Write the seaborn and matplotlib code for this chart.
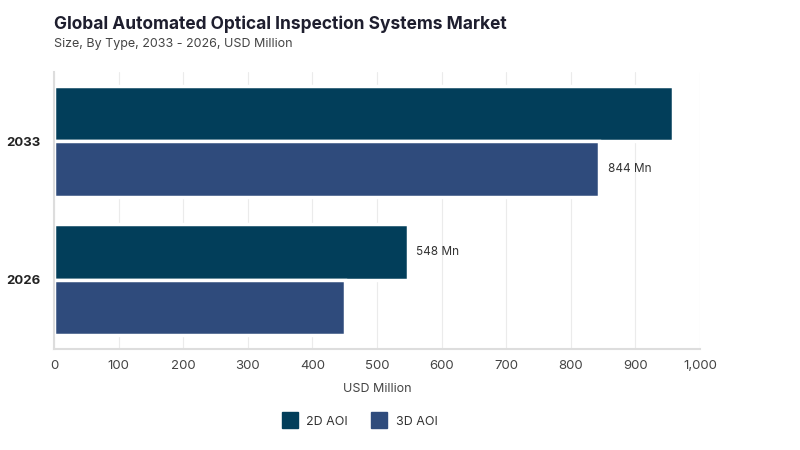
import pandas as pd
import matplotlib
matplotlib.use("Agg")
import matplotlib.pyplot as plt
import seaborn as sns
from matplotlib.ticker import FuncFormatter
from matplotlib.lines import Line2D

years = ["2033", "2026"]
types = ["2D AOI", "3D AOI"]
aoi_2d = [958, 548]
aoi_3d = [844, 450]
colors = ["#023e5a", "#2f4b7c"]

df = pd.DataFrame({
    "year": years * 2,
    "type": [types[0]] * 2 + [types[1]] * 2,
    "value": aoi_2d + aoi_3d,
})

sns.set_style("white")
plt.rcParams["font.family"] = ["Inter", "DejaVu Sans"]

fig = plt.figure(figsize=(8, 4.5), dpi=100)
ax = fig.add_axes([0.0675, 0.2244, 0.8075, 0.6156])

sns.barplot(data=df, y="year", x="value", hue="type", order=years, hue_order=types,
            palette=colors, orient="h", width=0.8, edgecolor="white", linewidth=2.5,
            saturation=1, legend=False, ax=ax)

ax.set_xlim(0, 1000)
ax.set_ylim(1.5, -0.5)
ax.set_xticks(range(0, 1001, 100))
ax.xaxis.set_major_formatter(FuncFormatter(lambda v, p: f"{int(v):,}"))
ax.grid(axis="x", color="#ebebeb", linewidth=0.8)
ax.set_axisbelow(True)
for s in ["top", "right"]:
    ax.spines[s].set_visible(False)
for s in ["left", "bottom"]:
    ax.spines[s].set_color("#dddddd")
    ax.spines[s].set_linewidth(1.5)
    ax.spines[s].set_zorder(3)
ax.tick_params(axis="x", colors="#444444", labelsize=9.5, length=0, pad=8)
ax.tick_params(axis="y", length=0, pad=10)
for t in ax.get_yticklabels():
    t.set_fontweight("bold")
    t.set_fontsize(9.5)
    t.set_color("#222222")
ax.set_ylabel("")
ax.set_xlabel("USD Million", fontsize=9, color="#444444", labelpad=8)

# value labels on selected bars
c2d, c3d = ax.containers[0], ax.containers[1]
ax.bar_label(c2d, labels=["", f"{aoi_2d[1]} Mn"], padding=6, fontsize=8.5, color="#333333")
ax.bar_label(c3d, labels=[f"{aoi_3d[0]} Mn", ""], padding=6, fontsize=8.5, color="#333333")

handles = [Line2D([], [], marker="s", linestyle="", markersize=11, color=c) for c in colors]
ax.legend(handles, types, loc="upper center", bbox_to_anchor=(0.47, -0.2), ncol=2,
          frameon=False, fontsize=9, handletextpad=0.3, columnspacing=1.5,
          labelcolor="#333333")

fig.text(0.0675, 0.935, "Global Automated Optical Inspection Systems Market",
         fontsize=12.5, fontweight="bold", color="#1e1e2e")
fig.text(0.0675, 0.895, "Size, By Type, 2033 - 2026, USD Million",
         fontsize=9, color="#444444")

fig.savefig("out.png", dpi=100)
